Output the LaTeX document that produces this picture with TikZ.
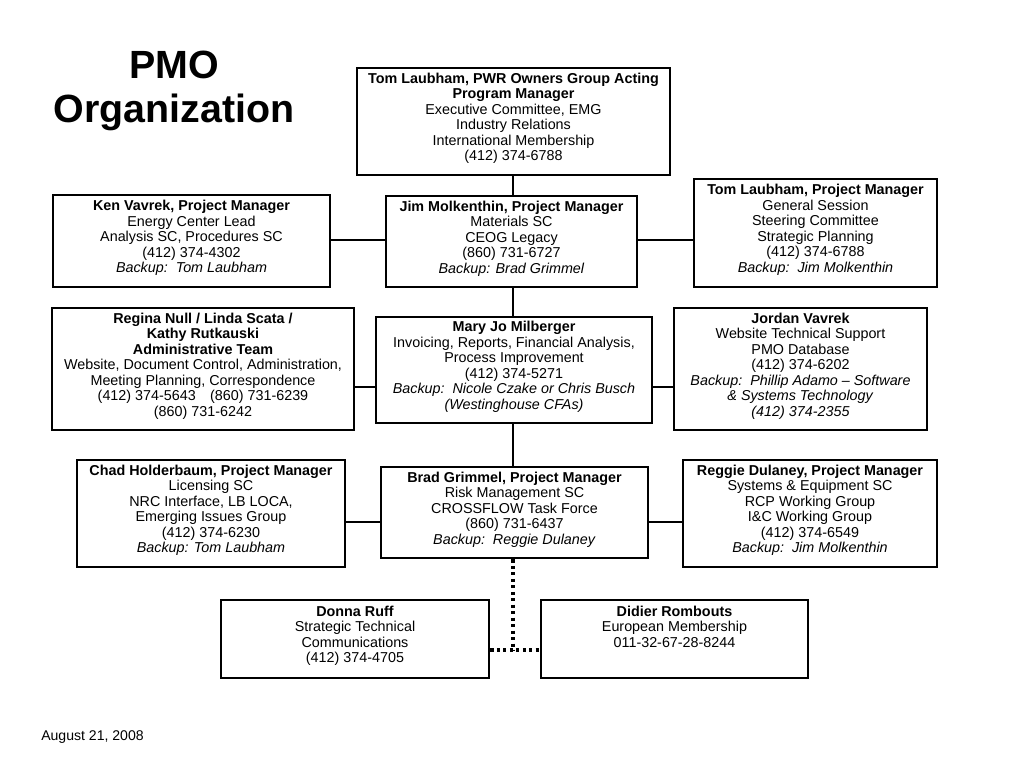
\documentclass[tikz,border=0pt]{standalone}
\usepackage{fontspec}
\setmainfont{Liberation Sans}
\usepackage{tikz}
\usepackage{xcolor}
\usetikzlibrary{positioning}

\newcommand{\boxfont}{\fontsize{10.2}{11}\selectfont\lineskiplimit=-10pt\relax}
\newcommand{\boxstrut}{\rule[-6.5pt]{0pt}{6.5pt}}

\begin{document}
\begin{tikzpicture}[x=0.025cm, y=-0.025cm,
	box/.style={draw, line width=2pt, align=center, inner sep=0pt, font=\boxfont, execute at end node=\boxstrut},
	link/.style={line width=2pt},
	dotlink/.style={line width=2.2pt, dash pattern=on 2.2pt off 2.4pt}]
	\useasboundingbox (0,0) rectangle (1024,768);
	%
	% Title and date
	\node[align=center, inner sep=0pt, font=\bfseries\fontsize{28}{31.3}\selectfont] (title) at (174, 91) {PMO\\Organization};
	\node[anchor=west, inner sep=0pt, font=\fontsize{10}{11}\selectfont] (date) at (41, 737) {August 21, 2008};
	%
	% Boxes: top row
	\node[box, minimum width=7.825cm, minimum height=2.675cm] (lead) at (513.5, 121.5) {\textbf{Tom Laubham, PWR Owners Group Acting}\\\textbf{Program Manager}\\Executive Committee, EMG\\Industry Relations\\International Membership\\(412) 374-6788};
	\node[box, minimum width=6.925cm, minimum height=2.3cm] (ken) at (191.5, 241) {\textbf{Ken Vavrek, Project Manager}\\Energy Center Lead\\Analysis SC, Procedures SC\\(412) 374-4302\\\textit{Backup:\ \ Tom Laubham}};
	\node[box, minimum width=6.275cm, minimum height=2.275cm] (jim) at (511.5, 241.5) {\textbf{Jim Molkenthin, Project Manager}\\Materials SC\\CEOG Legacy\\(860) 731-6727\\\textit{Backup: Brad Grimmel}};
	\node[box, minimum width=6.075cm, minimum height=2.7cm] (tom) at (815.5, 233) {\textbf{Tom Laubham, Project Manager}\\General Session\\Steering Committee\\Strategic Planning\\(412) 374-6788\\\textit{Backup:\ \ Jim Molkenthin}};
	%
	% Boxes: middle row
	\node[box, minimum width=7.55cm, minimum height=3.05cm] (admin) at (203, 369) {\textbf{Regina Null / Linda Scata /}\\\textbf{Kathy Rutkauski}\\\textbf{Administrative Team}\\Website, Document Control, Administration,\\Meeting Planning, Correspondence\\(412) 374-5643\quad (860) 731-6239\\(860) 731-6242};
	\node[box, minimum width=6.9cm, minimum height=2.65cm] (maryjo) at (514, 370) {\textbf{Mary Jo Milberger}\\Invoicing, Reports, Financial Analysis,\\Process Improvement\\(412) 374-5271\\\textit{Backup:\ \ Nicole Czake or Chris Busch}\\\textit{(Westinghouse CFAs)}};
	\node[box, minimum width=6.325cm, minimum height=3.05cm] (jordan) at (800.5, 369) {\textbf{Jordan Vavrek}\\Website Technical Support\\PMO Database\\(412) 374-6202\\\textit{Backup:\ \ Phillip Adamo -- Software}\\\textit{\& Systems Technology}\\\textit{(412) 374-2355}};
	%
	% Boxes: lower row
	\node[box, minimum width=6.7cm, minimum height=2.675cm] (chad) at (211, 513.5) {\textbf{Chad Holderbaum, Project Manager}\\Licensing SC\\NRC Interface, LB LOCA,\\Emerging Issues Group\\(412) 374-6230\\\textit{Backup: Tom Laubham}};
	\node[box, minimum width=6.675cm, minimum height=2.275cm] (brad) at (514.5, 512.5) {\textbf{Brad Grimmel, Project Manager}\\Risk Management SC\\CROSSFLOW Task Force\\(860) 731-6437\\\textit{Backup:\ \ Reggie Dulaney}};
	\node[box, minimum width=6.35cm, minimum height=2.675cm] (reggie) at (810, 513.5) {\textbf{Reggie Dulaney, Project Manager}\\Systems \& Equipment SC\\RCP Working Group\\I\&C Working Group\\(412) 374-6549\\\textit{Backup:\ \ Jim Molkenthin}};
	%
	% Boxes: bottom row (text sits at the top)
	\node[box, minimum width=6.7cm, minimum height=1.95cm] (donna) at (355, 639) {\textbf{Donna Ruff}\\Strategic Technical\\Communications\\(412) 374-4705};
	\node[box, minimum width=6.675cm, minimum height=1.95cm] (didier) at (674.5, 639) {\textbf{Didier Rombouts}\\European Membership\\011-32-67-28-8244\\\mbox{}};
	%
	% Spine points
	\coordinate (r1) at (513, 240); % row 1 branch
	\coordinate (r2) at (513, 387); % row 2 branch
	\coordinate (r3) at (513, 522); % row 3 branch
	\coordinate (r4) at (513, 650); % dotted branch
	%
	% Connectors
	\draw[link] (r1 |- lead.south) -- (r1 |- jim.north);
	\draw[link] (r1 |- jim.south) -- (r2 |- maryjo.north);
	\draw[link] (r2 |- maryjo.south) -- (r3 |- brad.north);
	\draw[link] (ken.east |- r1) -- (jim.west |- r1);
	\draw[link] (jim.east |- r1) -- (tom.west |- r1);
	\draw[link] (admin.east |- r2) -- (maryjo.west |- r2);
	\draw[link] (maryjo.east |- r2) -- (jordan.west |- r2);
	\draw[link] (chad.east |- r3) -- (brad.west |- r3);
	\draw[link] (brad.east |- r3) -- (reggie.west |- r3);
	\draw[dotlink] (r3 |- brad.south) -- (r4);
	\draw[dotlink] (donna.east |- r4) -- (didier.west |- r4);
\end{tikzpicture}
\end{document}
